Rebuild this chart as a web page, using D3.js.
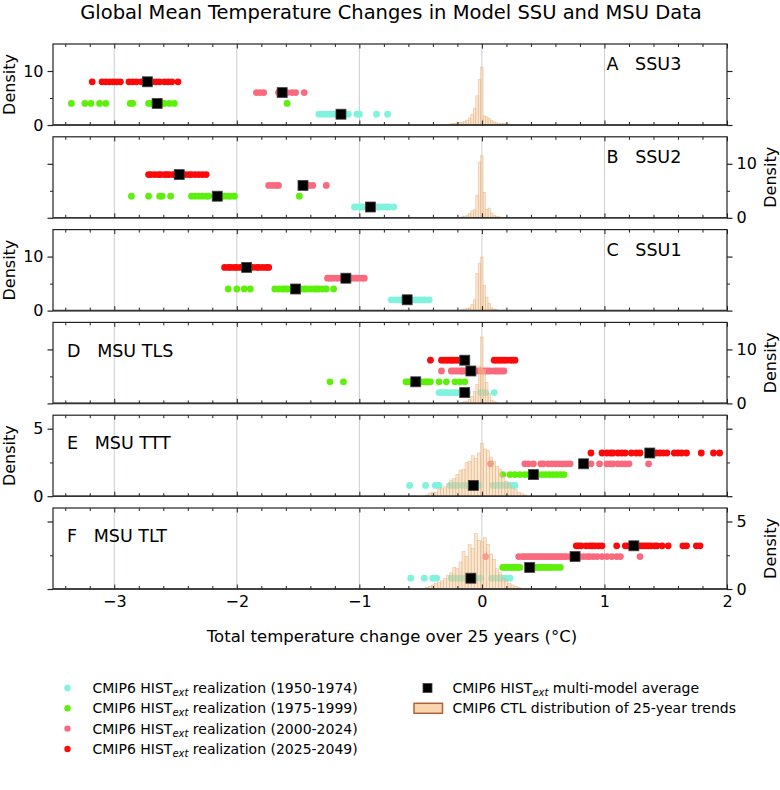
<!DOCTYPE html>
<html>
<head>
<meta charset="utf-8">
<script src="https://cdn.jsdelivr.net/npm/d3@7"></script>
<style>
  body { margin: 0; background: #fff; }
  text { font-family: "DejaVu Sans", sans-serif; fill: #000; }
</style>
</head>
<body>
<svg id="chart" width="780" height="790"></svg>
<script>
// 期間
const periods = ["1950-1974", "1975-1999", "2000-2024", "2025-2049"];
const colors = ["#7ff3dd", "#5cf00a", "#fa6a7e", "#fa0a0a"];

// パネル名
const panelLabels = ["A   SSU3", "B   SSU2", "C   SSU1", "D   MSU TLS", "E   MSU TTT", "F   MSU TLT"];

// 各パネルの実現値 (cyan, green, pink, red の順)
const ssu3 = [
  [-1.33, -1.30, -1.27, -1.24, -1.21, -1.18, -1.12, -1.09, -1.02, -1.00, -0.86, -0.77],
  [-3.35, -3.24, -3.19, -3.12, -3.07, -2.87, -2.85, -2.72, -2.70, -2.67, -2.61, -2.59, -2.55, -2.51, -1.59],
  [-1.84, -1.81, -1.78, -1.66, -1.59, -1.55, -1.52, -1.45],
  [-3.18, -3.10, -3.07, -3.04, -3.01, -2.98, -2.95, -2.88, -2.85, -2.82, -2.78, -2.76, -2.69, -2.66, -2.63, -2.59, -2.56, -2.53, -2.48]
];
const ssu2 = [
  [-1.04, -1.02, -0.99, -0.97, -0.86, -0.84, -0.81, -0.78, -0.76, -0.72],
  [-2.86, -2.72, -2.63, -2.61, -2.54, -2.37, -2.34, -2.31, -2.28, -2.25, -2.23, -2.12, -2.10, -2.07, -2.05, -2.02, -1.49],
  [-1.74, -1.71, -1.68, -1.66, -1.43, -1.41, -1.38, -1.27],
  [-2.72, -2.70, -2.67, -2.64, -2.62, -2.59, -2.57, -2.55, -2.52, -2.50, -2.44, -2.42, -2.39, -2.37, -2.34, -2.31, -2.28, -2.25]
];
const ssu1 = [
  [-0.74, -0.71, -0.68, -0.66, -0.63, -0.58, -0.55, -0.53, -0.50, -0.48, -0.46, -0.43],
  [-2.07, -2.00, -1.94, -1.89, -1.69, -1.66, -1.63, -1.61, -1.59, -1.56, -1.50, -1.48, -1.45, -1.43, -1.40, -1.37, -1.35, -1.33, -1.30, -1.27, -1.21],
  [-1.26, -1.24, -1.22, -1.19, -1.17, -1.14, -1.08, -1.06, -1.03, -1.01, -0.98, -0.96],
  [-2.10, -2.07, -2.05, -2.02, -2.00, -1.97, -1.95, -1.89, -1.87, -1.84, -1.82, -1.79, -1.76, -1.74]
];
const tls = [
  [-0.35, -0.33, -0.31, -0.29, -0.27, -0.24, -0.22, -0.20, -0.18, -0.12, -0.01, 0.01, 0.03, 0.10],
  [-1.24, -1.13, -0.62, -0.60, -0.58, -0.56, -0.52, -0.51, -0.49, -0.47, -0.45, -0.44, -0.42, -0.35, -0.29, -0.22, -0.18, -0.14],
  [-0.33, -0.25, -0.23, -0.21, -0.19, -0.17, -0.16, -0.14, -0.06, -0.04, -0.01, 0.01, 0.03, 0.05, 0.07, 0.10, 0.12, 0.14, 0.16, 0.18],
  [-0.42, -0.33, -0.31, -0.29, -0.27, -0.25, -0.24, -0.22, -0.20, -0.18, 0.10, 0.12, 0.14, 0.16, 0.18, 0.20, 0.23, 0.25, 0.27]
];
const ttt = [
  [-0.59, -0.46, -0.38, -0.35, -0.26, -0.23, -0.20, -0.16, -0.13, -0.11, -0.02, 0.09, 0.12, 0.15, 0.18, 0.21, 0.24, 0.27],
  [0.17, 0.23, 0.27, 0.31, 0.35, 0.38, 0.46, 0.49, 0.52, 0.55, 0.58, 0.61, 0.64, 0.67],
  [0.07, 0.35, 0.38, 0.42, 0.48, 0.50, 0.54, 0.57, 0.60, 0.63, 0.66, 0.69, 0.72, 0.89, 0.96, 1.02, 1.05, 1.07, 1.11, 1.14, 1.17, 1.20, 1.36],
  [0.89, 0.98, 1.02, 1.05, 1.07, 1.11, 1.14, 1.17, 1.22, 1.26, 1.29, 1.42, 1.45, 1.48, 1.51, 1.57, 1.60, 1.63, 1.67, 1.79, 1.89, 1.94]
];
const tlt = [
  [-0.58, -0.47, -0.40, -0.37, -0.25, -0.23, -0.21, -0.19, -0.17, -0.14, -0.12, -0.06, -0.01, 0.08, 0.11, 0.14, 0.16, 0.19, 0.23],
  [0.17, 0.19, 0.21, 0.23, 0.25, 0.27, 0.29, 0.31, 0.42, 0.44, 0.46, 0.48, 0.50, 0.52, 0.54, 0.56, 0.58, 0.61, 0.64],
  [0.03, 0.30, 0.33, 0.35, 0.37, 0.39, 0.41, 0.43, 0.45, 0.47, 0.49, 0.51, 0.53, 0.55, 0.57, 0.59, 0.61, 0.63, 0.65, 0.67, 0.69, 0.72, 0.80, 0.83, 0.86, 0.88, 0.91, 0.94, 0.98, 1.02, 1.06, 1.10, 1.13, 1.29],
  [0.77, 0.79, 0.81, 0.85, 0.88, 0.90, 0.92, 0.95, 0.98, 1.10, 1.17, 1.19, 1.21, 1.28, 1.30, 1.32, 1.34, 1.36, 1.38, 1.41, 1.43, 1.47, 1.52, 1.64, 1.67, 1.75, 1.78]
];

// マルチモデル平均
const meanSSU3 = [-1.15, -2.65, -1.63, -2.73];
const meanSSU2 = [-0.91, -2.16, -1.46, -2.47];
const meanSSU1 = [-0.61, -1.52, -1.11, -1.92];
const meanTLS = [-0.14, -0.54, -0.09, -0.14];
const meanTTT = [-0.07, 0.42, 0.83, 1.37];
const meanTLT = [-0.09, 0.39, 0.76, 1.24];

// CTL ヒストグラム (密度)
const histSSU3 = [0.2, 0.3, 0.3, 0.4, 0.5, 0.5, 0.7, 0.9, 1.3, 2.0, 3.1, 5.4, 8.4, 10.7, 1.7, 1.5, 1.2, 0.8, 0.6, 0.4, 0.3, 0.3, 0.3, 0.2, 0.2];
const histSSU2 = [0.2, 0.3, 0.5, 0.8, 1.3, 1.5, 4.2, 10.3, 11.5, 4.7, 1.6, 1.8, 0.9, 0.5, 0.3, 0.2];
const histSSU1 = [0.2, 0.3, 0.4, 0.5, 1.1, 2.0, 6.9, 8.8, 9.9, 4.7, 2.5, 1.4, 0.5, 0.3, 0.2];
const histTLS = [0.2, 0.3, 0.4, 0.7, 1.3, 2.2, 3.5, 6.8, 12.3, 6.3, 3.9, 1.8, 0.6, 0.3, 0.2];
const histTTT = [0.1, 0.2, 0.3, 0.3, 0.5, 0.6, 0.7, 0.9, 1.2, 1.3, 1.6, 1.9, 2.0, 2.5, 2.6, 3.0, 2.8, 3.2, 3.9, 3.5, 3.4, 2.9, 2.6, 2.2, 2.0, 1.5, 1.1, 0.9, 0.6, 0.5, 0.3, 0.2, 0.1];
const histTLT = [0.1, 0.2, 0.3, 0.4, 0.5, 0.6, 0.8, 1.0, 1.2, 1.6, 1.5, 2.0, 2.8, 2.4, 3.3, 3.0, 4.1, 3.6, 3.5, 3.8, 3.3, 2.6, 2.2, 1.5, 1.2, 0.8, 0.6, 0.4, 0.3, 0.2, 0.1];
const histStart = [-0.27, -0.17, -0.17, -0.17, -0.4625, -0.4625];
const histBin = [0.02, 0.02, 0.02, 0.02, 0.025, 0.025];

// 軸
const xMajor = [-3, -2, -1, 0, 1, 2];
const xMinor = d3.range(-34, 20, 2).map(d => d / 10).filter(d => !xMajor.includes(d));
const yMaxSSU = 15, yMaxMSU = 6;
const levelsSSU = [2, 4, 6, 8];
const levelsMSU = [0.8, 1.6, 2.4, 3.2];

const panels = [
  { dots: ssu3, mean: meanSSU3, hist: histSSU3, side: "left" },
  { dots: ssu2, mean: meanSSU2, hist: histSSU2, side: "right" },
  { dots: ssu1, mean: meanSSU1, hist: histSSU1, side: "left" },
  { dots: tls,  mean: meanTLS,  hist: histTLS,  side: "right" },
  { dots: ttt,  mean: meanTTT,  hist: histTTT,  side: "left" },
  { dots: tlt,  mean: meanTLT,  hist: histTLT,  side: "right" }
];

const left = 53, right = 727, top0 = 44, pitch = 92.8, ph = 81;
const labelDy = [26, 26, 26, 35, 34, 34];
const svg = d3.select("#chart");
const x = d3.scaleLinear().domain([-3.5, 2]).range([left, right]);

svg.append("text")
  .attr("x", 391).attr("y", 19)
  .attr("text-anchor", "middle")
  .attr("font-size", 19.5)
  .text("Global Mean Temperature Changes in Model SSU and MSU Data");

panels.forEach((p, i) => {
  const top = top0 + i * pitch;
  const msu = i >= 4;
  const ymax = msu ? yMaxMSU : yMaxSSU;
  const levels = msu ? levelsMSU : levelsSSU;
  const y = d3.scaleLinear().domain([0, ymax]).range([top + ph, top]);
  const g = svg.append("g");

  // グリッド
  g.selectAll(".grid")
    .data([-3, -2, -1, 0, 1])
    .enter().append("line")
    .attr("x1", d => x(d)).attr("x2", d => x(d))
    .attr("y1", top).attr("y2", top + ph)
    .attr("stroke", "#b9c2c6").attr("stroke-width", 0.8);

  // 実現値
  p.dots.forEach((arr, k) => {
    g.selectAll(null)
      .data(arr)
      .enter().append("circle")
      .attr("cx", d => x(d))
      .attr("cy", y(levels[k]))
      .attr("r", 3.4)
      .attr("fill", colors[k]);
  });

  // CTL ヒストグラム
  const bw = histBin[i];
  g.selectAll(null)
    .data(p.hist)
    .enter().append("rect")
    .attr("x", (d, j) => x(histStart[i] + j * bw))
    .attr("width", x(bw) - x(0))
    .attr("y", d => y(d))
    .attr("height", d => y(0) - y(d))
    .attr("fill", "rgba(247, 205, 160, 0.5)")
    .attr("stroke", "rgba(225, 165, 110, 0.6)")
    .attr("stroke-width", 0.6);

  // 平均
  p.mean.forEach((m, k) => {
    g.append("rect")
      .attr("x", x(m) - 5).attr("y", y(levels[k]) - 5)
      .attr("width", 10).attr("height", 10)
      .attr("fill", "#000").attr("stroke", "#444").attr("stroke-width", 0.8);
  });

  // 枠
  g.append("rect")
    .attr("x", left).attr("y", top)
    .attr("width", right - left).attr("height", ph)
    .attr("fill", "none").attr("stroke", "#222").attr("stroke-width", 1.2);
  g.append("line")
    .attr("x1", left).attr("x2", right).attr("y1", top + ph).attr("y2", top + ph)
    .attr("stroke", "#333").attr("stroke-width", 1.6);

  // x 目盛り (内向き)
  const xt = (axis, yy, vals, len, fmt) => {
    const a = g.append("g").attr("transform", `translate(0,${yy})`)
      .call(axis(x).tickValues(vals).tickSizeInner(-len).tickSizeOuter(0).tickPadding(7).tickFormat(fmt));
    a.select(".domain").remove();
    a.selectAll("line").attr("stroke", "#222").attr("stroke-width", 1);
    return a;
  };
  xt(d3.axisTop, top, xMajor, 4.5, () => "");
  xt(d3.axisTop, top, xMinor, 3, () => "");
  xt(d3.axisBottom, top + ph, xMinor, 3, () => "");
  const xb = xt(d3.axisBottom, top + ph, xMajor, 4.5, i === 5 ? d3.format("d") : () => "");
  xb.selectAll("text").attr("font-size", 16).attr("font-family", "DejaVu Sans").attr("fill", "#000");

  // y 目盛り (外向き)
  const yMajorVals = msu ? [0, 5] : [0, 10];
  const yMinorVals = msu ? [2.5] : [5];
  [["left", d3.axisLeft, left], ["right", d3.axisRight, right]].forEach(([side, axis, xx]) => {
    const lab = side === p.side;
    const a = g.append("g").attr("transform", `translate(${xx},0)`)
      .call(axis(y).tickValues(yMajorVals).tickSizeInner(5.5).tickSizeOuter(0).tickPadding(4)
        .tickFormat(lab ? d3.format("d") : () => ""));
    a.select(".domain").remove();
    a.selectAll("line").attr("stroke", "#222").attr("stroke-width", 1.2);
    a.selectAll("text").attr("font-size", 16).attr("font-family", "DejaVu Sans").attr("fill", "#000");
    const b = g.append("g").attr("transform", `translate(${xx},0)`)
      .call(axis(y).tickValues(yMinorVals).tickSizeInner(3).tickSizeOuter(0).tickFormat(() => ""));
    b.select(".domain").remove();
    b.selectAll("line").attr("stroke", "#222").attr("stroke-width", 1);
  });

  // Density ラベル
  const lx = p.side === "left" ? 9 : 770;
  g.append("text")
    .attr("transform", `translate(${lx},${top + ph / 2}) rotate(-90)`)
    .attr("text-anchor", "middle")
    .attr("dominant-baseline", "central")
    .attr("font-size", 16)
    .text("Density");

  // パネル名
  g.append("text")
    .attr("x", i < 3 ? x(1.0) + 2 : 67)
    .attr("y", top + labelDy[i])
    .attr("font-size", 17.5)
    .style("white-space", "pre")
    .text(panelLabels[i]);
});

// x 軸ラベル
svg.append("text")
  .attr("x", 392).attr("y", 642)
  .attr("text-anchor", "middle")
  .attr("font-size", 16.5)
  .text("Total temperature change over 25 years (°C)");

// 凡例
const legRows = [688, 708.3, 728.6, 749];
const leg = svg.append("g");
const histText = (gg, xx, yy, tail) => {
  const t = gg.append("text").attr("x", xx).attr("y", yy + 5).attr("font-size", 14);
  t.append("tspan").text("CMIP6 HIST");
  t.append("tspan").attr("dy", 3).attr("font-size", 10).attr("font-style", "italic").text("ext");
  t.append("tspan").attr("dy", -3).text(tail);
};
periods.forEach((per, k) => {
  leg.append("circle").attr("cx", 67.5).attr("cy", legRows[k]).attr("r", 3.2).attr("fill", colors[k]);
  histText(leg, 92.5, legRows[k], ` realization (${per})`);
});
leg.append("rect").attr("x", 423).attr("y", legRows[0] - 4.5).attr("width", 9).attr("height", 9)
  .attr("fill", "#000").attr("stroke", "#444").attr("stroke-width", 0.8);
histText(leg, 452.5, legRows[0], " multi-model average");
leg.append("rect").attr("x", 414).attr("y", legRows[1] - 5).attr("width", 28.5).attr("height", 10)
  .attr("fill", "#f9d7ae").attr("stroke", "#b0603a").attr("stroke-width", 1.5);
leg.append("text").attr("x", 452.5).attr("y", legRows[1] + 5).attr("font-size", 14)
  .text("CMIP6 CTL distribution of 25-year trends");
</script>
</body>
</html>
